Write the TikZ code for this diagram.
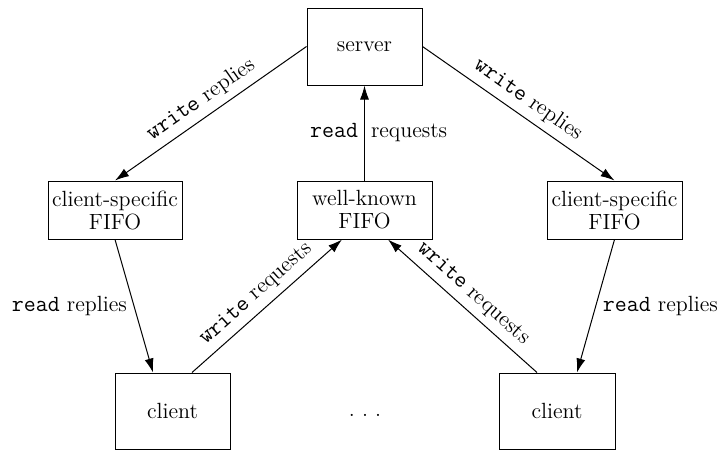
\documentclass[tikz,border=0pt]{standalone}
\usetikzlibrary{arrows.meta}
\newcommand\code[1]{{\ttfamily\fontsize{11.6}{13}\selectfont #1}}
\begin{document}
\begin{tikzpicture}[x=0.5pt,y=-0.5pt,
  every node/.style={font=\fontsize{11}{11.5}\selectfont},
  box/.style={draw,line width=0.5pt,inner sep=0pt,align=center},
  conn/.style={line width=0.5pt,-{Latex[length=7pt,width=4.5pt]}},
  lbl/.style={midway,sloped,above}]
\useasboundingbox (0,0) rectangle (721,451);
\node[box,minimum width=57.5pt,minimum height=38.5pt] (server) at (364.5,46.5) {server};
\node[box,minimum width=67pt,minimum height=29pt] (lf) at (115,210) {client-specific\\FIFO};
\node[box,minimum width=67.5pt,minimum height=29pt] (wk) at (364.5,210) {well-known\\FIFO};
\node[box,minimum width=67.5pt,minimum height=29pt] (rf) at (614.5,210) {client-specific\\FIFO};
\node[box,minimum width=57.5pt,minimum height=38pt] (lc) at (172.5,411) {client};
\node[box,minimum width=58pt,minimum height=38pt] (rc) at (557,411) {client};
\node[anchor=base] (dots) at (365,416) {.\hspace{3.6pt}.\hspace{3.6pt}.};

\draw[conn] (server.west) -- (lf.north) node[lbl]{\code{write} replies};
\draw[conn] (server.east) -- (rf.north) node[lbl]{\code{write} replies};
\draw[conn] (wk.north) -- (server.south)
  node[midway,anchor=base east,inner sep=0pt,xshift=-3pt,yshift=-2pt]{\code{read}}
  node[midway,anchor=base west,inner sep=0pt,xshift=3pt,yshift=-2pt]{requests};
\draw[conn] (lf.south) -- ([xshift=-9.75pt]lc.north) node[midway,left]{\code{read} replies};
\draw[conn] (rf.south) -- ([xshift=10pt]rc.north) node[midway,right]{\code{read} replies};
\draw[conn] ([xshift=9.75pt]lc.north) -- ([xshift=-11.25pt]wk.south) node[lbl]{\code{write} requests};
\draw[conn] ([xshift=-10pt]rc.north) -- ([xshift=11.75pt]wk.south) node[lbl]{\code{write} requests};
\end{tikzpicture}
\end{document}
